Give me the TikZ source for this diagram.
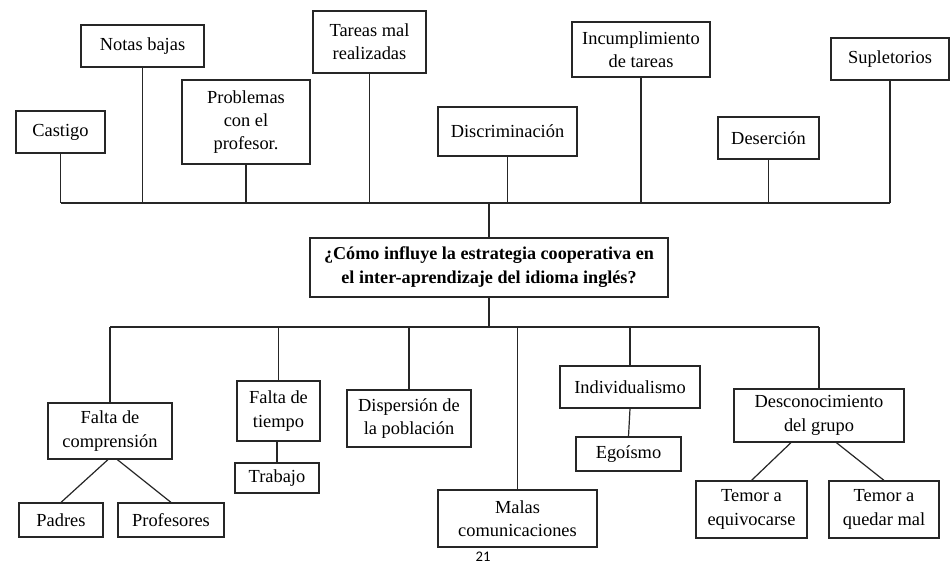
\documentclass[tikz,border=0pt]{standalone}
\usepackage{fontspec}
\setmainfont{Liberation Serif}
\newfontfamily\pagenumfont{Carlito}
\newcommand\bx[7][]{\node[box,#1,minimum width={(#5-#3)*0.75pt},minimum height={(#6-#4)*0.75pt}] (#2) at ({(#3+#5)/2},{(#4+#6)/2}) {#7};}
\begin{document}
\begin{tikzpicture}[x=0.75pt,y=-0.75pt,
  box/.style={draw=black!85,line width=0.9pt,inner sep=1pt,align=center,font=\fontsize{13.8}{17.5}\selectfont},
  conn/.style={draw=black!85,line width=0.9pt}]
\useasboundingbox[fill=white] (0,0) rectangle (952,567);
% top causes
\bx{castigo}{16}{111}{105}{153}{Castigo}
\bx{notas}{81}{25}{204}{67}{Notas bajas}
\bx{problemas}{182}{80}{310}{164}{Problemas\\con el\\profesor.}
\bx{tareas}{313}{11}{426}{73}{Tareas mal\\realizadas}
\bx{discrim}{438}{107}{577}{156}{Discriminación}
\bx{incump}{572}{22}{710}{77}{Incumplimiento\\de tareas}
\bx{desercion}{718}{117}{819}{159}{Deserción}
\bx{supletorios}{831}{38}{949}{80}{Supletorios}
% main
\bx[font=\fontsize{13.6}{18}\selectfont\bfseries]{main}{310}{238}{668}{297}{¿Cómo influye la estrategia cooperativa en\\el inter-aprendizaje del idioma inglés?}
% bottom
\bx{fcomp}{48}{403}{172}{459}{Falta de\\comprensión}
\bx{padres}{19}{503}{103}{537}{Padres}
\bx{profes}{118}{503}{224}{537}{Profesores}
\bx{ftiempo}{237}{381}{320}{441}{Falta de\\tiempo}
\bx{trabajo}{235}{463}{319}{493}{Trabajo}
\bx{dispersion}{347}{390}{471}{447}{Dispersión de\\la población}
\bx{malas}{438}{490}{597}{547}{Malas\\comunicaciones}
\bx{individ}{560}{366}{700}{408}{Individualismo}
\bx{egoismo}{576}{437}{681}{471}{Egoísmo}
\bx{descon}{734}{389}{904}{442}{Desconocimiento\\del grupo}
\bx{temor1}{696}{481}{807}{538}{Temor a\\equivocarse}
\bx{temor2}{829}{481}{939}{538}{Temor a\\quedar mal}
\node[font=\pagenumfont\fontsize{11}{13}\selectfont,anchor=north,inner sep=0] (pg) at (483,552) {21};
% top bar
\coordinate (tl) at (58,203);
\coordinate (bl) at (110,327);
\draw[conn] (castigo.south |- tl) -- (supletorios.south |- tl);
\foreach \n in {castigo,notas,problemas,tareas,discrim,incump,desercion,supletorios}
  \draw[conn] (\n.south) -- (\n.south |- tl);
\draw[conn] (main.north) -- (main.north |- tl);
% bottom bar
\draw[conn] (main.south) -- (main.south |- bl);
\draw[conn] (fcomp.north |- bl) -- (descon.north |- bl);
\foreach \n in {fcomp,ftiempo,dispersion,malas,individ,descon}
  \draw[conn] (\n.north) -- (\n.north |- bl);
\draw[conn] (trabajo.north |- ftiempo.south) -- (trabajo.north);
\draw[conn] (individ.south) -- (egoismo.north);
\draw[conn] ([xshift=-1.5pt]fcomp.south) -- (padres.north);
\draw[conn] ([xshift=5.5pt]fcomp.south) -- (profes.north);
\draw[conn] ([xshift=-21pt]descon.south) -- (temor1.north);
\draw[conn] ([xshift=13pt]descon.south) -- (temor2.north);
\end{tikzpicture}
\end{document}
